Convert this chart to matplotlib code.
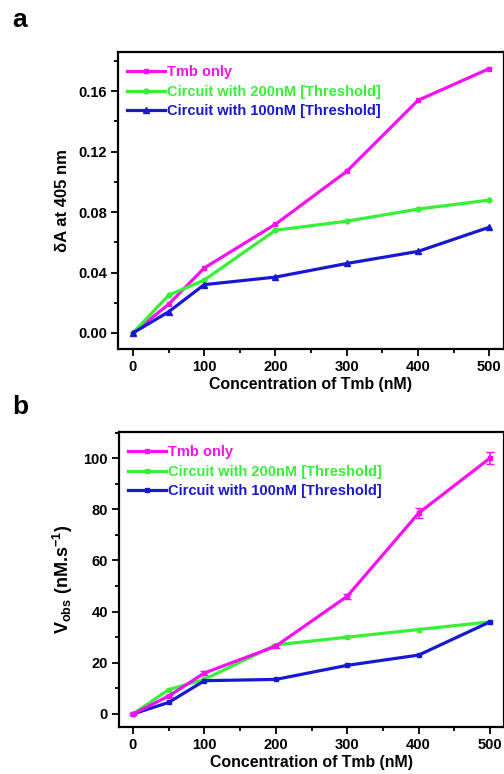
import matplotlib
matplotlib.use("Agg")
import matplotlib.pyplot as plt
from matplotlib.ticker import MultipleLocator

main_font = 'Liberation Sans'
plt.rcParams['font.family'] = [main_font, 'DejaVu Sans']
plt.rcParams['font.weight'] = 'bold'
plt.rcParams['mathtext.fontset'] = 'custom'
plt.rcParams['mathtext.rm'] = main_font + ':bold'
plt.rcParams['mathtext.it'] = main_font + ':bold:italic'
plt.rcParams['mathtext.bf'] = main_font + ':bold'

conc = [0, 50, 100, 200, 300, 400, 500]
series_names = ["Tmb only", "Circuit with 200nM [Threshold]", "Circuit with 100nM [Threshold]"]

# Panel a: delta A at 405 nm
a_tmb = [0.000, 0.019, 0.043, 0.072, 0.107, 0.154, 0.175]
a_200 = [0.000, 0.025, 0.035, 0.068, 0.074, 0.082, 0.088]
a_100 = [0.000, 0.014, 0.032, 0.037, 0.046, 0.054, 0.070]

# Panel b: V_obs (nM/s)
b_tmb = [0.0, 7.0, 16.0, 26.5, 46.0, 78.5, 100.0]
b_tmb_err = [0.5, 0.5, 0.8, 0.8, 1.0, 2.0, 2.5]
b_200 = [0.0, 9.5, 13.5, 27.0, 30.0, 33.0, 36.0]
b_100 = [0.0, 4.5, 13.0, 13.5, 19.0, 23.0, 36.0]

colors = ['#f810f0', '#38f038', '#1818d0']

W, H = 504, 774
fig = plt.figure(figsize=(W/100, H/100), dpi=100)

def style_axes(ax, xlim):
    for s in ax.spines.values():
        s.set_linewidth(1.6)
    ax.tick_params(which='both', direction='out', width=1.3, labelsize=10.5, pad=3)
    ax.tick_params(which='major', length=5)
    ax.tick_params(which='minor', length=3)
    ax.set_xticks([0, 100, 200, 300, 400, 500])
    ax.xaxis.set_minor_locator(MultipleLocator(50))
    ax.set_xlim(*xlim)
    ax.set_xlabel("Concentration of Tmb (nM)", fontsize=11.4, fontweight='bold', labelpad=2)
    for lab in ax.get_xticklabels() + ax.get_yticklabels():
        lab.set_fontweight('bold')

def add_legend(ax, handles):
    leg = ax.legend(handles, series_names, loc='upper left', frameon=False, fontsize=10.5,
                    handlelength=2.6, handletextpad=0.15, borderaxespad=0.2, labelspacing=0.38,
                    bbox_to_anchor=(0.0, 0.985))
    for t, c in zip(leg.get_texts(), colors):
        t.set_color(c)
        t.set_fontweight('bold')

# Panel a
axa = fig.add_axes([118/W, 1-349/H, 385.5/W, 297/H])
h1, = axa.plot(conc, a_tmb, color=colors[0], lw=2.3, marker='s', ms=3.5)
h2, = axa.plot(conc, a_200, color=colors[1], lw=2.3, marker='o', ms=3.5)
h3, = axa.plot(conc, a_100, color=colors[2], lw=2.3, marker='^', ms=4)
axa.set_ylim(-0.0106, 0.186)
axa.set_yticks([0.00, 0.04, 0.08, 0.12, 0.16])
axa.set_yticklabels(['0.00', '0.04', '0.08', '0.12', '0.16'])
axa.yaxis.set_minor_locator(MultipleLocator(0.02))
axa.set_ylabel("δA at 405 nm", fontsize=12, fontweight='bold', labelpad=6)
style_axes(axa, (-21, 520))
add_legend(axa, [h1, h2, h3])

# Panel b
axb = fig.add_axes([119/W, 1-727/H, 385/W, 295/H])
e1 = axb.errorbar(conc, b_tmb, yerr=b_tmb_err, color=colors[0], lw=2.3, marker='s', ms=3.5,
                  capsize=3, elinewidth=1.2)
g2, = axb.plot(conc, b_200, color=colors[1], lw=2.3, marker='s', ms=3.5)
g3, = axb.plot(conc, b_100, color=colors[2], lw=2.3, marker='s', ms=3.5)
axb.set_ylim(-5.1, 110.2)
axb.set_yticks([0, 20, 40, 60, 80, 100])
axb.yaxis.set_minor_locator(MultipleLocator(10))
axb.set_ylabel(r"V$_{\mathrm{obs}}$ (nM.s$^{\mathrm{-1}}$)", fontsize=13,
               fontweight='bold', labelpad=6)
style_axes(axb, (-19.6, 519.6))
add_legend(axb, [e1.lines[0], g2, g3])

fig.text(12/W, 1-20/H, "a", fontsize=19, fontweight='bold', va='center', ha='left')
fig.text(12/W, 1-407/H, "b", fontsize=19, fontweight='bold', va='center', ha='left')

fig.savefig("out.png", dpi=100)
